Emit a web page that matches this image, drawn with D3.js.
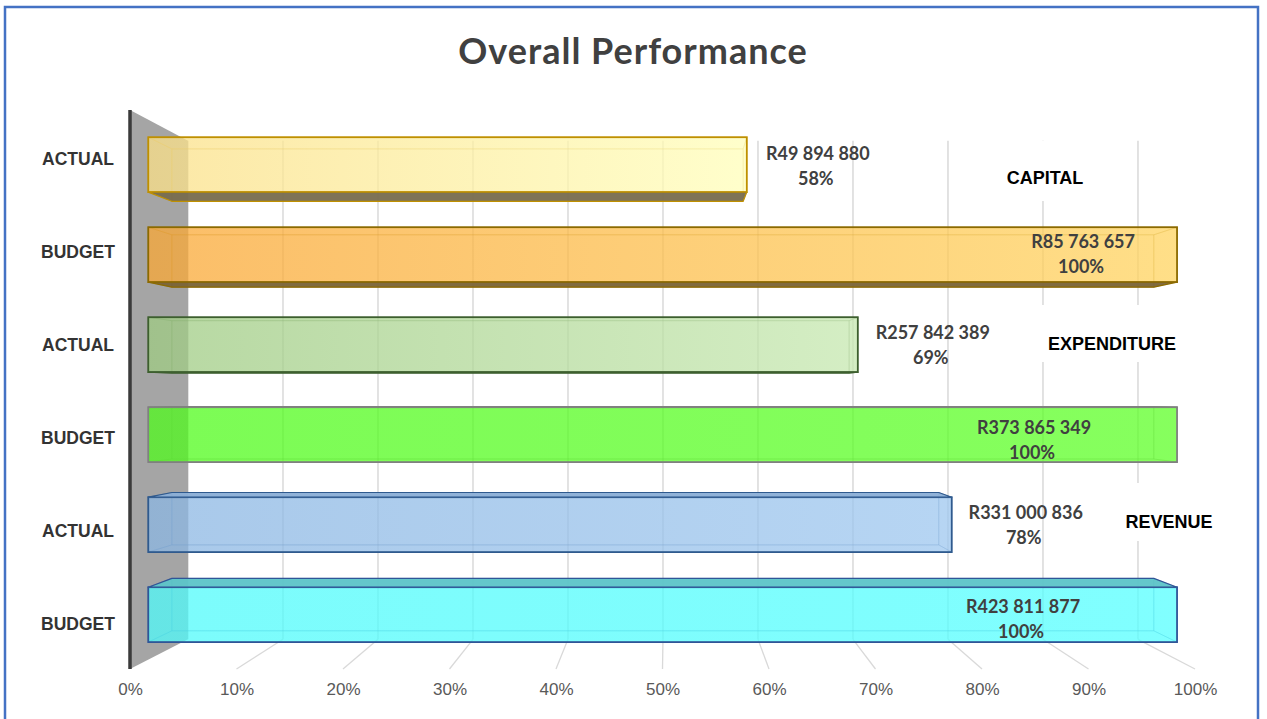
<!DOCTYPE html>
<html><head><meta charset="utf-8">
<script src="https://cdn.jsdelivr.net/npm/d3@7"></script>
<style>html,body{margin:0;padding:0;background:#fff;} svg{display:block}</style>
</head><body>
<svg id="chart" width="1267" height="719"></svg>
<script>
// ---------- data ----------
const categories = ["ACTUAL", "BUDGET", "ACTUAL", "BUDGET", "ACTUAL", "BUDGET"];
const amounts    = [49894880, 85763657, 257842389, 373865349, 331000836, 423811877];
const shares     = [0.5818, 1.00, 0.6897, 1.00, 0.781, 1.00];
const groupNames = ["CAPITAL", "EXPENDITURE", "REVENUE"];
const tickValues = [0, 0.1, 0.2, 0.3, 0.4, 0.5, 0.6, 0.7, 0.8, 0.9, 1.0];
const title = "Overall Performance";

// ---------- styles / layout ----------
const colorLeft  = ["#FCE8A6", "#FBBE68", "#B7D8A2", "#7CFC55", "#A9C9EA", "#7CFCFC"];
const colorRight = ["#FFFECB", "#FFDF88", "#D4EEC4", "#86FF5E", "#B6D5F3", "#80FFFF"];
const strokeCol  = ["#BF9000", "#8C6A00", "#3D5F2E", "#808080", "#2F5A8E", "#2F5597"];
const sideCol    = ["#776B4E", "#7A6335", "#55704A", "#66CC44", "#8AAED6", "#5CC4C8"];
const labelDx    = [71, -94, 75, -143, 74, -154];
const labelDy    = [-4.5, -7, -5.5, -0.5, -5.5, -2];
const groupLabelPos = [[1045, 184], [1112, 350], [1169, 528]];
const groupBoxes = [[995, 141, 105, 60], [1035, 305, 155, 57], [1115, 483, 107, 58]];

const W = 1267, H = 719;
const VX = 667, VY = 394;             // vanishing point
const K_BACK = 0.892, K_BF = 0.966, K_BB = 0.922, ALPHA = 0.75;

const svg = d3.select("#chart");
svg.append("rect").attr("width", W).attr("height", H).attr("fill", "#fff");
svg.append("rect").attr("x", 5).attr("y", 7).attr("width", 1253).attr("height", 720)
  .attr("fill", "none").attr("stroke", "#4472C4").attr("stroke-width", 2.5);

svg.append("text").attr("x", 633).attr("y", 64).attr("text-anchor", "middle")
  .attr("font-family", "Lato, 'Open Sans', sans-serif").attr("font-weight", "bold")
  .attr("font-size", 36).attr("letter-spacing", 1).attr("fill", "#404040").text(title);

const x = d3.scaleLinear().domain([0, 1]).range([130, 1195]);
const y = d3.scaleBand().domain(d3.range(categories.length)).range([110, 669])
  .paddingInner(0.39).paddingOuter(0.195);
const TOP = 110, BOT = 669;
const P = (X, Y, k) => [VX + (X - VX) * k, VY + (Y - VY) * k];
const poly = pts => "M" + pts.map(p => p.join(",")).join("L") + "Z";

// back-wall gridlines
const g = svg.append("g");
tickValues.forEach(t => {
  const a = P(x(t), TOP, K_BACK), b = P(x(t), BOT, K_BACK);
  g.append("line").attr("x1", a[0]).attr("y1", a[1]).attr("x2", b[0]).attr("y2", b[1])
    .attr("stroke", "#D9D9D9").attr("stroke-width", 1.5);
  if (t > 0) {
    const c = P(x(t), BOT, 1);
    g.append("line").attr("x1", b[0]).attr("y1", b[1]).attr("x2", c[0]).attr("y2", c[1])
      .attr("stroke", "#D9D9D9").attr("stroke-width", 1.3);
  }
});

// side wall
svg.append("path").attr("d", poly([P(x(0), TOP, 1), P(x(0), TOP, K_BACK), P(x(0), BOT, K_BACK), P(x(0), BOT, 1)]))
  .attr("fill", "#A5A5A5");
svg.append("line").attr("x1", x(0)).attr("y1", TOP).attr("x2", x(0)).attr("y2", BOT)
  .attr("stroke", "#3A3A3A").attr("stroke-width", 3.5);

// group label boxes (white)
groupBoxes.forEach(b => svg.append("rect").attr("x", b[0]).attr("y", b[1]).attr("width", b[2]).attr("height", b[3]).attr("fill", "#fff"));

// bars
const defs = svg.append("defs");
const comp = c => { const r = d3.rgb(c); const f = v => Math.max(0, Math.min(255, (v - (1 - ALPHA) * 255) / ALPHA)); return d3.rgb(f(r.r), f(r.g), f(r.b)).formatHex(); };
const fmt = d3.formatLocale({ decimal: ".", thousands: " ", grouping: [3], currency: ["R", ""] }).format("$,");
const bars = svg.append("g");
categories.forEach((cat, i) => {
  const X0 = x(0), X1 = x(shares[i]), Y0 = y(i), Y1 = Y0 + y.bandwidth();
  const F = K_BF, B = K_BB;
  const faces = {
    back:   [P(X0, Y0, B), P(X1, Y0, B), P(X1, Y1, B), P(X0, Y1, B)],
    top:    [P(X0, Y0, F), P(X1, Y0, F), P(X1, Y0, B), P(X0, Y0, B)],
    bottom: [P(X0, Y1, F), P(X1, Y1, F), P(X1, Y1, B), P(X0, Y1, B)],
    left:   [P(X0, Y0, F), P(X0, Y1, F), P(X0, Y1, B), P(X0, Y0, B)],
    right:  [P(X1, Y0, F), P(X1, Y1, F), P(X1, Y1, B), P(X1, Y0, B)]
  };
  const vis = { top: Y0 > VY, bottom: Y1 < VY, left: X0 > VX, right: X1 < VX };
  const bg = bars.append("g");
  ["back", "top", "bottom", "left", "right"].forEach(f => {
    if (f !== "back" && vis[f]) return;
    bg.append("path").attr("d", poly(faces[f])).attr("fill", "none")
      .attr("stroke", strokeCol[i]).attr("stroke-opacity", 0.28).attr("stroke-width", 1);
  });
  const gid = "grad" + i;
  const gr = defs.append("linearGradient").attr("id", gid).attr("x1", 0).attr("x2", 1).attr("y1", 0).attr("y2", 0);
  gr.append("stop").attr("offset", 0).attr("stop-color", comp(colorLeft[i])).attr("stop-opacity", ALPHA);
  gr.append("stop").attr("offset", 1).attr("stop-color", comp(colorRight[i])).attr("stop-opacity", ALPHA);
  const f0 = P(X0, Y0, F), f1 = P(X1, Y1, F);
  bg.append("rect").attr("x", f0[0]).attr("y", f0[1]).attr("width", f1[0] - f0[0]).attr("height", f1[1] - f0[1])
    .attr("fill", `url(#${gid})`).attr("stroke", strokeCol[i]).attr("stroke-width", 1.8);
  ["top", "bottom", "left", "right"].forEach(f => {
    if (!vis[f]) return;
    bg.append("path").attr("d", poly(faces[f])).attr("fill", sideCol[i]).attr("fill-opacity", 0.95)
      .attr("stroke", strokeCol[i]).attr("stroke-width", 1.2).attr("stroke-linejoin", "round");
  });
  // value labels
  const cy = (f0[1] + f1[1]) / 2 + labelDy[i];
  const lx = f1[0] + labelDx[i];
  const t = svg.append("text").attr("text-anchor", "middle")
    .attr("font-family", "Lato, 'Open Sans', sans-serif").attr("font-weight", "bold")
    .attr("font-size", 18).attr("fill", "#404040");
  t.append("tspan").attr("x", lx).attr("y", cy).text(fmt(amounts[i]));
  t.append("tspan").attr("x", lx - 2).attr("y", cy + 25).text(d3.format(".0%")(shares[i]));
  // category labels
  svg.append("text").attr("x", 78).attr("y", Y0 + y.bandwidth() / 2 + 8).attr("text-anchor", "middle")
    .attr("font-family", "'Liberation Sans', Arial, sans-serif").attr("font-weight", "bold")
    .attr("font-size", 17.5).attr("fill", "#333").text(cat);
});

// group labels
groupNames.forEach((n, j) => svg.append("text").attr("x", groupLabelPos[j][0]).attr("y", groupLabelPos[j][1])
  .attr("text-anchor", "middle").attr("font-family", "'Liberation Sans', Arial, sans-serif")
  .attr("font-weight", "bold").attr("font-size", 18).attr("fill", "#000").text(n));

// bottom axis labels
const ax = svg.append("g").attr("transform", `translate(0,${BOT})`)
  .call(d3.axisBottom(x).tickValues(tickValues).tickFormat(d3.format(".0%")).tickSize(0).tickPadding(14));
ax.select(".domain").remove();
ax.selectAll("text").attr("font-family", "'Liberation Sans', Arial, sans-serif").attr("font-size", 17).attr("fill", "#595959");
</script>
</body></html>
